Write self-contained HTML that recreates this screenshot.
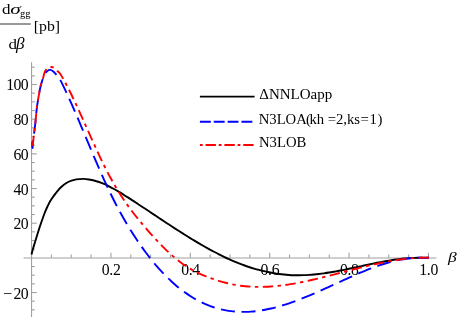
<!DOCTYPE html>
<html><head><meta charset="utf-8"><style>
html,body{margin:0;padding:0;background:#fff;}
svg{display:block;font-family:"Liberation Serif",serif;}
#w{will-change:transform;width:457px;height:317px;}
</style></head><body>
<div id="w"><svg width="457" height="317" viewBox="0 0 457 317">
<rect width="457" height="317" fill="#fff"/>
<g stroke="#a0a0a0" stroke-width="1.1" fill="none">
<line x1="23.61" y1="257.97" x2="436.39" y2="257.97"/>
<line x1="31.55" y1="62.3" x2="31.55" y2="317"/>
<line x1="51.39" y1="257.85" x2="51.39" y2="254.55"/><line x1="71.24" y1="257.85" x2="71.24" y2="254.55"/><line x1="91.09" y1="257.85" x2="91.09" y2="254.55"/><line x1="110.93" y1="257.85" x2="110.93" y2="252.65"/><line x1="130.78" y1="257.85" x2="130.78" y2="254.55"/><line x1="150.62" y1="257.85" x2="150.62" y2="254.55"/><line x1="170.47" y1="257.85" x2="170.47" y2="254.55"/><line x1="190.31" y1="257.85" x2="190.31" y2="252.65"/><line x1="210.16" y1="257.85" x2="210.16" y2="254.55"/><line x1="230.00" y1="257.85" x2="230.00" y2="254.55"/><line x1="249.85" y1="257.85" x2="249.85" y2="254.55"/><line x1="269.69" y1="257.85" x2="269.69" y2="252.65"/><line x1="289.54" y1="257.85" x2="289.54" y2="254.55"/><line x1="309.38" y1="257.85" x2="309.38" y2="254.55"/><line x1="329.22" y1="257.85" x2="329.22" y2="254.55"/><line x1="349.07" y1="257.85" x2="349.07" y2="252.65"/><line x1="368.92" y1="257.85" x2="368.92" y2="254.55"/><line x1="388.76" y1="257.85" x2="388.76" y2="254.55"/><line x1="408.61" y1="257.85" x2="408.61" y2="254.55"/><line x1="428.45" y1="257.85" x2="428.45" y2="252.65"/><line x1="31.55" y1="309.85" x2="34.85" y2="309.85"/><line x1="31.55" y1="301.18" x2="34.85" y2="301.18"/><line x1="31.55" y1="292.52" x2="36.75" y2="292.52"/><line x1="31.55" y1="283.85" x2="34.85" y2="283.85"/><line x1="31.55" y1="275.18" x2="34.85" y2="275.18"/><line x1="31.55" y1="266.52" x2="34.85" y2="266.52"/><line x1="31.55" y1="249.18" x2="34.85" y2="249.18"/><line x1="31.55" y1="240.52" x2="34.85" y2="240.52"/><line x1="31.55" y1="231.85" x2="34.85" y2="231.85"/><line x1="31.55" y1="223.18" x2="36.75" y2="223.18"/><line x1="31.55" y1="214.52" x2="34.85" y2="214.52"/><line x1="31.55" y1="205.85" x2="34.85" y2="205.85"/><line x1="31.55" y1="197.18" x2="34.85" y2="197.18"/><line x1="31.55" y1="188.52" x2="36.75" y2="188.52"/><line x1="31.55" y1="179.85" x2="34.85" y2="179.85"/><line x1="31.55" y1="171.18" x2="34.85" y2="171.18"/><line x1="31.55" y1="162.52" x2="34.85" y2="162.52"/><line x1="31.55" y1="153.85" x2="36.75" y2="153.85"/><line x1="31.55" y1="145.18" x2="34.85" y2="145.18"/><line x1="31.55" y1="136.52" x2="34.85" y2="136.52"/><line x1="31.55" y1="127.85" x2="34.85" y2="127.85"/><line x1="31.55" y1="119.18" x2="36.75" y2="119.18"/><line x1="31.55" y1="110.52" x2="34.85" y2="110.52"/><line x1="31.55" y1="101.85" x2="34.85" y2="101.85"/><line x1="31.55" y1="93.18" x2="34.85" y2="93.18"/><line x1="31.55" y1="84.52" x2="36.75" y2="84.52"/><line x1="31.55" y1="75.85" x2="34.85" y2="75.85"/><line x1="31.55" y1="67.18" x2="34.85" y2="67.18"/>
</g>
<g font-size="16" fill="#000" letter-spacing="-0.65"><text transform="translate(111.13,275.4) scale(0.985,1)" letter-spacing="-0.35" text-anchor="middle">0.2</text><text transform="translate(190.51,275.4) scale(0.985,1)" letter-spacing="-0.35" text-anchor="middle">0.4</text><text transform="translate(269.89,275.4) scale(0.985,1)" letter-spacing="-0.35" text-anchor="middle">0.6</text><text transform="translate(349.27,275.4) scale(0.985,1)" letter-spacing="-0.35" text-anchor="middle">0.8</text><text transform="translate(428.65,275.4) scale(0.985,1)" letter-spacing="-0.35" text-anchor="middle">1.0</text><text transform="translate(28.0,298.67) scale(0.985,1)" text-anchor="end"><tspan letter-spacing="1.3">−</tspan>20</text><text transform="translate(28.0,229.33) scale(0.985,1)" text-anchor="end">20</text><text transform="translate(28.0,194.67) scale(0.985,1)" text-anchor="end">40</text><text transform="translate(28.0,160.00) scale(0.985,1)" text-anchor="end">60</text><text transform="translate(28.0,125.33) scale(0.985,1)" text-anchor="end">80</text><text transform="translate(28.0,90.27) scale(0.985,1)" text-anchor="end">100</text></g>
<g fill="none" stroke-width="1.9">
<path d="M31.50,254.50C31.77,253.50 32.55,250.45 33.10,248.50C33.65,246.55 34.23,244.68 34.80,242.80C35.37,240.92 35.93,239.03 36.50,237.20C37.07,235.37 37.65,233.55 38.20,231.80C38.75,230.05 39.25,228.37 39.80,226.70C40.35,225.03 40.95,223.37 41.50,221.80C42.05,220.23 42.52,218.90 43.10,217.30C43.68,215.70 44.35,213.83 45.00,212.20C45.65,210.57 46.33,208.97 47.00,207.50C47.67,206.03 48.35,204.63 49.00,203.40C49.65,202.17 50.27,201.13 50.90,200.10C51.53,199.07 52.17,198.12 52.80,197.20C53.43,196.28 54.07,195.43 54.70,194.60C55.33,193.77 55.97,192.98 56.60,192.20C57.23,191.42 57.87,190.63 58.50,189.90C59.13,189.17 59.45,188.70 60.40,187.80C61.35,186.90 62.73,185.55 64.20,184.50C65.67,183.45 67.52,182.28 69.20,181.50C70.88,180.72 72.62,180.20 74.30,179.80C75.98,179.40 77.68,179.25 79.30,179.10C80.92,178.95 82.38,178.83 84.00,178.90C85.62,178.97 87.33,179.27 89.00,179.54C90.67,179.81 92.33,180.10 94.00,180.51C95.67,180.92 97.33,181.43 99.00,182.01C100.67,182.58 102.33,183.24 104.00,183.96C105.67,184.68 107.33,185.47 109.00,186.31C110.67,187.14 112.33,188.04 114.00,188.97C115.67,189.90 117.33,190.88 119.00,191.88C120.67,192.88 122.33,193.92 124.00,194.96C125.67,196.01 127.33,197.09 129.00,198.16C130.67,199.23 132.33,200.32 134.00,201.40C135.67,202.49 137.33,203.59 139.00,204.68C140.67,205.78 142.33,206.88 144.00,207.99C145.67,209.09 147.33,210.20 149.00,211.31C150.67,212.42 152.33,213.53 154.00,214.64C155.67,215.75 157.33,216.86 159.00,217.97C160.67,219.07 162.33,220.18 164.00,221.28C165.67,222.38 167.33,223.48 169.00,224.58C170.67,225.67 172.33,226.76 174.00,227.84C175.67,228.92 177.33,230.00 179.00,231.07C180.67,232.14 182.33,233.20 184.00,234.25C185.67,235.30 187.33,236.34 189.00,237.37C190.67,238.40 192.33,239.41 194.00,240.42C195.67,241.42 197.33,242.42 199.00,243.40C200.67,244.37 202.33,245.34 204.00,246.29C205.67,247.24 207.33,248.17 209.00,249.09C210.67,250.00 212.33,250.90 214.00,251.78C215.67,252.66 217.33,253.52 219.00,254.36C220.67,255.20 222.33,256.02 224.00,256.82C225.67,257.62 227.33,258.39 229.00,259.15C230.67,259.90 232.33,260.63 234.00,261.33C235.67,262.04 237.33,262.72 239.00,263.37C240.67,264.02 242.33,264.65 244.00,265.25C245.67,265.85 247.33,266.43 249.00,266.98C250.67,267.52 252.33,268.05 254.00,268.54C255.67,269.04 257.33,269.51 259.00,269.95C260.67,270.39 262.33,270.81 264.00,271.19C265.67,271.58 267.33,271.94 269.00,272.28C270.67,272.61 272.33,272.92 274.00,273.19C275.67,273.47 277.33,273.72 279.00,273.95C280.67,274.17 282.33,274.36 284.00,274.53C285.67,274.70 287.33,274.84 289.00,274.95C290.67,275.06 292.33,275.14 294.00,275.19C295.67,275.24 297.33,275.27 299.00,275.26C300.67,275.26 302.33,275.22 304.00,275.16C305.67,275.10 307.33,275.02 309.00,274.91C310.67,274.80 312.33,274.66 314.00,274.50C315.67,274.35 317.33,274.17 319.00,273.97C320.67,273.77 322.33,273.55 324.00,273.32C325.67,273.08 327.33,272.83 329.00,272.56C330.67,272.30 332.33,272.01 334.00,271.72C335.67,271.42 337.33,271.11 339.00,270.79C340.67,270.47 342.33,270.14 344.00,269.81C345.67,269.47 347.33,269.12 349.00,268.77C350.67,268.42 352.33,268.06 354.00,267.71C355.67,267.35 357.33,266.98 359.00,266.62C360.67,266.26 362.33,265.89 364.00,265.53C365.67,265.17 367.33,264.81 369.00,264.46C370.67,264.11 372.33,263.75 374.00,263.41C375.67,263.07 377.33,262.73 379.00,262.41C380.67,262.08 382.33,261.77 384.00,261.46C385.67,261.16 387.33,260.87 389.00,260.59C390.67,260.31 392.33,260.05 394.00,259.80C395.67,259.56 397.33,259.33 399.00,259.12C400.67,258.92 402.33,258.73 404.00,258.56C405.67,258.40 407.33,258.25 409.00,258.13C410.67,258.01 412.33,257.92 414.00,257.85C415.67,257.79 417.33,257.74 419.00,257.74C420.67,257.73 422.37,257.80 424.00,257.80C425.63,257.80 428.00,257.76 428.80,257.75" stroke="#000"/>
<path d="M31.90,140.50C31.95,141.25 32.09,143.77 32.20,145.00C32.31,146.23 32.43,148.20 32.55,147.90C32.67,147.60 32.72,144.90 32.90,143.20C33.08,141.50 33.40,139.38 33.60,137.70C33.80,136.02 33.87,135.03 34.10,133.10C34.33,131.17 34.73,128.37 35.00,126.10C35.27,123.83 35.43,122.15 35.70,119.50C35.97,116.85 36.25,113.22 36.60,110.20C36.95,107.18 37.35,104.33 37.80,101.40C38.25,98.47 38.83,95.12 39.30,92.60C39.77,90.08 40.18,88.07 40.60,86.30C41.02,84.53 41.38,83.38 41.80,82.00C42.22,80.62 42.57,79.38 43.10,78.00C43.63,76.62 44.30,74.88 45.00,73.70C45.70,72.52 46.43,71.53 47.30,70.90C48.17,70.27 49.25,69.85 50.20,69.90C51.15,69.95 52.05,70.48 53.00,71.20C53.95,71.92 55.02,73.18 55.90,74.20C56.78,75.22 57.45,76.10 58.30,77.30C59.15,78.50 59.72,79.02 61.00,81.42C62.28,83.82 64.33,88.16 66.00,91.70C67.67,95.23 69.33,98.91 71.00,102.63C72.67,106.36 74.33,110.20 76.00,114.06C77.67,117.92 79.33,121.86 81.00,125.80C82.67,129.74 84.33,133.73 86.00,137.70C87.67,141.67 89.33,145.65 91.00,149.60C92.67,153.54 94.33,157.49 96.00,161.37C97.67,165.25 99.33,169.10 101.00,172.87C102.67,176.64 104.33,180.36 106.00,183.97C107.67,187.59 109.33,191.13 111.00,194.54C112.67,197.96 114.33,201.26 116.00,204.47C117.67,207.67 119.33,210.76 121.00,213.77C122.67,216.78 124.33,219.68 126.00,222.52C127.67,225.35 129.33,228.09 131.00,230.76C132.67,233.44 134.33,236.03 136.00,238.55C137.67,241.08 139.33,243.52 141.00,245.89C142.67,248.27 144.33,250.56 146.00,252.79C147.67,255.02 149.33,257.17 151.00,259.26C152.67,261.34 154.33,263.35 156.00,265.30C157.67,267.24 159.33,269.12 161.00,270.93C162.67,272.73 164.33,274.47 166.00,276.15C167.67,277.82 169.33,279.43 171.00,280.97C172.67,282.52 174.33,283.99 176.00,285.41C177.67,286.82 179.33,288.18 181.00,289.47C182.67,290.76 184.33,291.99 186.00,293.15C187.67,294.32 189.33,295.43 191.00,296.48C192.67,297.53 194.33,298.52 196.00,299.45C197.67,300.39 199.33,301.26 201.00,302.09C202.67,302.91 204.33,303.67 206.00,304.38C207.67,305.09 209.33,305.75 211.00,306.35C212.67,306.96 214.33,307.50 216.00,308.00C217.67,308.50 219.33,308.95 221.00,309.35C222.67,309.75 224.33,310.10 226.00,310.40C227.67,310.70 229.33,310.95 231.00,311.16C232.67,311.37 234.33,311.53 236.00,311.65C237.67,311.77 239.33,311.84 241.00,311.87C242.67,311.91 244.33,311.90 246.00,311.85C247.67,311.81 249.33,311.72 251.00,311.60C252.67,311.47 254.33,311.31 256.00,311.12C257.67,310.92 259.33,310.69 261.00,310.43C262.67,310.17 264.33,309.87 266.00,309.54C267.67,309.22 269.33,308.86 271.00,308.47C272.67,308.09 274.33,307.67 276.00,307.23C277.67,306.79 279.33,306.32 281.00,305.83C282.67,305.34 284.33,304.83 286.00,304.29C287.67,303.75 289.33,303.19 291.00,302.61C292.67,302.03 294.33,301.43 296.00,300.81C297.67,300.19 299.33,299.56 301.00,298.91C302.67,298.25 304.33,297.59 306.00,296.90C307.67,296.22 309.33,295.53 311.00,294.82C312.67,294.12 314.33,293.40 316.00,292.67C317.67,291.94 319.33,291.20 321.00,290.46C322.67,289.72 324.33,288.96 326.00,288.21C327.67,287.45 329.33,286.69 331.00,285.92C332.67,285.16 334.33,284.39 336.00,283.62C337.67,282.85 339.33,282.08 341.00,281.32C342.67,280.56 344.33,279.79 346.00,279.03C347.67,278.28 349.33,277.52 351.00,276.78C352.67,276.03 354.33,275.30 356.00,274.57C357.67,273.85 359.33,273.13 361.00,272.43C362.67,271.73 364.33,271.04 366.00,270.37C367.67,269.70 369.33,269.04 371.00,268.41C372.67,267.77 374.33,267.15 376.00,266.56C377.67,265.96 379.33,265.39 381.00,264.84C382.67,264.29 384.33,263.76 386.00,263.27C387.67,262.77 389.33,262.30 391.00,261.86C392.67,261.42 394.33,261.01 396.00,260.63C397.67,260.26 399.33,259.91 401.00,259.60C402.67,259.29 404.33,259.02 406.00,258.78C407.67,258.55 409.33,258.35 411.00,258.19C412.67,258.04 414.33,257.92 416.00,257.85C417.67,257.78 419.33,257.75 421.00,257.77C422.67,257.79 424.70,257.97 426.00,257.97C427.30,257.96 428.33,257.79 428.80,257.75" stroke="#00f" stroke-dasharray="14 6.64" stroke-dashoffset="19.39"/>
<path d="M31.90,140.50C31.95,141.25 32.09,143.77 32.20,145.00C32.31,146.23 32.43,148.20 32.55,147.90C32.67,147.60 32.72,144.90 32.90,143.20C33.08,141.50 33.40,139.38 33.60,137.70C33.80,136.02 33.87,135.03 34.10,133.10C34.33,131.17 34.73,128.37 35.00,126.10C35.27,123.83 35.43,122.15 35.70,119.50C35.97,116.85 36.25,113.22 36.60,110.20C36.95,107.18 37.35,104.33 37.80,101.40C38.25,98.47 38.83,95.12 39.30,92.60C39.77,90.08 40.18,88.07 40.60,86.30C41.02,84.53 41.38,83.38 41.80,82.00C42.22,80.62 42.68,79.45 43.10,78.00C43.52,76.55 43.83,74.65 44.30,73.30C44.77,71.95 45.20,70.82 45.90,69.90C46.60,68.98 47.55,68.28 48.50,67.80C49.45,67.32 50.60,66.93 51.60,67.00C52.60,67.07 53.55,67.55 54.50,68.20C55.45,68.85 56.30,69.89 57.30,70.90C58.30,71.91 59.13,72.21 60.50,74.23C61.87,76.25 63.83,79.93 65.50,83.02C67.17,86.11 68.83,89.41 70.50,92.77C72.17,96.13 73.83,99.65 75.50,103.19C77.17,106.74 78.83,110.39 80.50,114.06C82.17,117.72 83.83,121.45 85.50,125.16C87.17,128.88 88.83,132.63 90.50,136.33C92.17,140.03 93.83,143.74 95.50,147.37C97.17,150.99 98.83,154.60 100.50,158.09C102.17,161.57 103.83,165.01 105.50,168.30C107.17,171.59 108.83,174.78 110.50,177.83C112.17,180.89 113.83,183.82 115.50,186.65C117.17,189.47 118.83,192.17 120.50,194.78C122.17,197.39 123.83,199.89 125.50,202.30C127.17,204.72 128.83,207.02 130.50,209.26C132.17,211.50 133.83,213.64 135.50,215.75C137.17,217.85 138.83,219.88 140.50,221.89C142.17,223.90 143.83,225.88 145.50,227.82C147.17,229.76 148.83,231.68 150.50,233.56C152.17,235.43 153.83,237.27 155.50,239.07C157.17,240.87 158.83,242.62 160.50,244.33C162.17,246.04 163.83,247.70 165.50,249.31C167.17,250.92 168.83,252.48 170.50,253.98C172.17,255.48 173.83,256.93 175.50,258.31C177.17,259.69 178.83,261.01 180.50,262.26C182.17,263.51 183.83,264.70 185.50,265.81C187.17,266.92 188.83,267.96 190.50,268.93C192.17,269.91 193.83,270.80 195.50,271.65C197.17,272.51 198.83,273.29 200.50,274.04C202.17,274.79 203.83,275.48 205.50,276.15C207.17,276.82 208.83,277.44 210.50,278.05C212.17,278.66 213.83,279.24 215.50,279.79C217.17,280.35 218.83,280.88 220.50,281.37C222.17,281.87 223.83,282.33 225.50,282.76C227.17,283.19 228.83,283.59 230.50,283.95C232.17,284.31 233.83,284.63 235.50,284.92C237.17,285.21 238.83,285.47 240.50,285.69C242.17,285.92 243.83,286.10 245.50,286.26C247.17,286.42 248.83,286.55 250.50,286.65C252.17,286.75 253.83,286.82 255.50,286.86C257.17,286.90 258.83,286.91 260.50,286.90C262.17,286.89 263.83,286.84 265.50,286.78C267.17,286.72 268.83,286.63 270.50,286.52C272.17,286.41 273.83,286.27 275.50,286.11C277.17,285.96 278.83,285.78 280.50,285.58C282.17,285.39 283.83,285.17 285.50,284.94C287.17,284.70 288.83,284.45 290.50,284.18C292.17,283.91 293.83,283.62 295.50,283.32C297.17,283.02 298.83,282.71 300.50,282.38C302.17,282.05 303.83,281.71 305.50,281.35C307.17,281.00 308.83,280.63 310.50,280.26C312.17,279.88 313.83,279.50 315.50,279.10C317.17,278.71 318.83,278.31 320.50,277.90C322.17,277.49 323.83,277.07 325.50,276.65C327.17,276.23 328.83,275.81 330.50,275.38C332.17,274.95 333.83,274.52 335.50,274.08C337.17,273.65 338.83,273.21 340.50,272.77C342.17,272.34 343.83,271.90 345.50,271.46C347.17,271.03 348.83,270.59 350.50,270.16C352.17,269.73 353.83,269.30 355.50,268.87C357.17,268.44 358.83,268.02 360.50,267.61C362.17,267.19 363.83,266.78 365.50,266.38C367.17,265.97 368.83,265.58 370.50,265.19C372.17,264.80 373.83,264.43 375.50,264.06C377.17,263.69 378.83,263.33 380.50,262.99C382.17,262.64 383.83,262.31 385.50,261.99C387.17,261.67 388.83,261.36 390.50,261.07C392.17,260.78 393.83,260.50 395.50,260.24C397.17,259.98 398.83,259.74 400.50,259.51C402.17,259.28 403.83,259.08 405.50,258.89C407.17,258.70 408.83,258.53 410.50,258.38C412.17,258.24 413.83,258.11 415.50,258.01C417.17,257.90 418.83,257.82 420.50,257.76C422.17,257.71 424.12,257.67 425.50,257.67C426.88,257.66 428.25,257.74 428.80,257.75" stroke="#f00" stroke-dasharray="3.4 4.5 10.4 4.4" stroke-dashoffset="21.3"/>
<line x1="199.9" y1="96.6" x2="254.6" y2="96.6" stroke="#000"/>
<line x1="199.9" y1="121.8" x2="254.6" y2="121.8" stroke="#00f" stroke-dasharray="10.9 2.95"/>
<line x1="199.9" y1="144.95" x2="254.6" y2="144.95" stroke="#f00" stroke-dasharray="2.75 2.9 10.35 2.85"/>
</g>
<g font-size="15" fill="#000">
<text x="259.3" y="98.6">ΔNNLOapp</text>
<text y="124.1" font-size="14.7"><tspan x="258.7">N3LOA</tspan><tspan x="306.1">(</tspan><tspan x="309.5">kh</tspan><tspan x="324.2"> </tspan><tspan x="327.7">=2,</tspan><tspan x="346.9">ks</tspan><tspan x="360.4">=</tspan><tspan x="369.6">1</tspan><tspan x="377.5">)</tspan></text>
<text x="259" y="146.8" font-size="14.7">N3LOB</text>
</g>
<!-- axis labels -->
<g fill="#000">
<text transform="translate(447.9,261.7) scale(1.12,1)" font-size="15.6" font-style="italic">β</text>
<text transform="translate(1.9,14.4) scale(1.1,1)" font-size="15.5">d</text>
<text transform="translate(10.2,14.4) scale(1.42,1)" font-size="15" font-style="italic">σ</text>
<text transform="translate(20.1,17.1) scale(1.0,1)" font-size="10.5">gg</text>
<rect x="0" y="23.4" width="30.8" height="1.2" fill="#555"/>
<text transform="translate(33.7,31.3) scale(1.05,1)" font-size="15.1">[pb]</text>
<text transform="translate(8.4,48.5) scale(1.12,1)" font-size="15.2">d</text>
<text transform="translate(16.1,48.5) scale(1.08,1)" font-size="15.8" font-style="italic">β</text>
</g>
</svg></div>
</body></html>
